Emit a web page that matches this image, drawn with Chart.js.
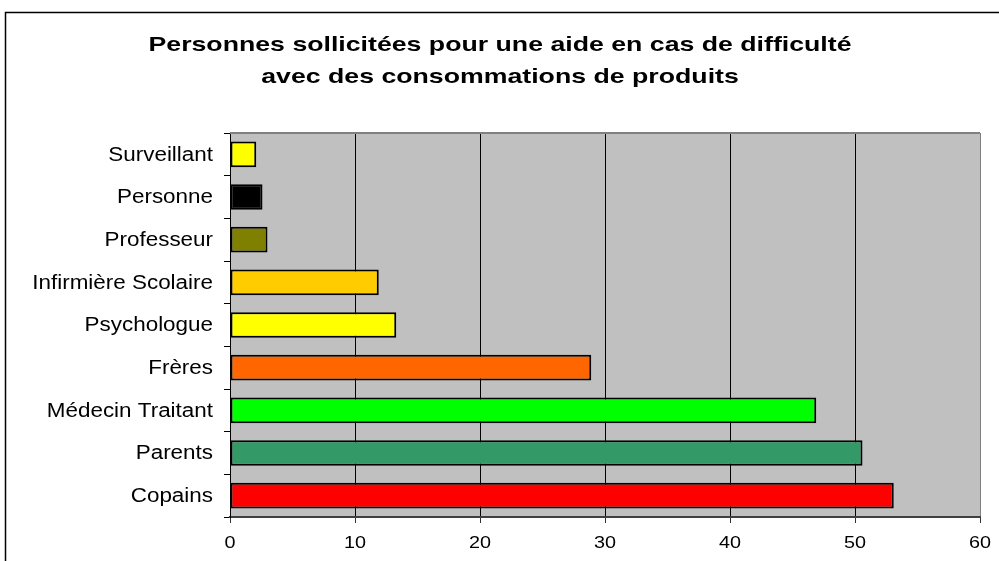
<!DOCTYPE html>
<html>
<head>
<meta charset="utf-8">
<script src="https://cdn.jsdelivr.net/npm/chart.js@4/dist/chart.umd.min.js"></script>
<style>
  html, body { margin: 0; padding: 0; background: #fff; }
  #wrap { width: 999px; height: 561px; position: relative; }
</style>
</head>
<body>
<div id="wrap"><canvas id="myChart" width="999" height="561"></canvas></div>
<script>
  const categories = ['Surveillant', 'Personne', 'Professeur', 'Infirmière Scolaire', 'Psychologue', 'Frères', 'Médecin Traitant', 'Parents', 'Copains'];
  const values = [2.1, 2.6, 3.0, 11.9, 13.3, 28.9, 46.9, 50.6, 53.1];
  const barColors = ['#ffff00', '#000000', '#808000', '#ffcc00', '#ffff00', '#ff6600', '#00ff00', '#339966', '#ff0000'];
  const xTicks = [0, 10, 20, 30, 40, 50, 60];
  const titleLines = ['Personnes sollicitées pour une aide en cas de difficulté', 'avec des consommations de produits'];

  const FONT = "'Liberation Sans', Arial, sans-serif";

  // the original picture has horizontally stretched text, so draw it with a x-scale
  function stretchedText(ctx, text, x, y, sx, align) {
    ctx.save();
    ctx.translate(x, y);
    ctx.scale(sx, 1);
    ctx.textAlign = align;
    ctx.fillText(text, 0, 0);
    ctx.restore();
  }

  // grey plot background + frame around the whole chart
  const plotBox = {
    id: 'plotBox',
    beforeDraw(chart) {
      const {ctx, chartArea: {left, right, top, bottom}} = chart;
      ctx.save();
      ctx.fillStyle = '#fff';
      ctx.fillRect(0, 0, chart.width, chart.height);
      ctx.strokeStyle = '#000';
      ctx.lineWidth = 1.5;
      ctx.strokeRect(5.5, 12.5, 1200, 700);
      ctx.fillStyle = '#c0c0c0';
      ctx.fillRect(left, top, right - left, bottom - top);
      ctx.restore();
    },
    afterDatasetsDraw(chart) {
      const {ctx, chartArea: {left, right, top}} = chart;
      ctx.save();
      ctx.strokeStyle = '#808080';
      ctx.lineWidth = 2;
      ctx.beginPath();
      ctx.moveTo(left, top);
      ctx.lineTo(right, top);
      ctx.stroke();
      ctx.restore();
    }
  };

  // title + axis labels
  const texts = {
    id: 'texts',
    afterDraw(chart) {
      const {ctx, scales: {x, y}} = chart;
      ctx.save();
      ctx.fillStyle = '#000';
      ctx.textBaseline = 'alphabetic';

      ctx.font = 'bold 20.5px ' + FONT;
      const sxTitle = 703 / ctx.measureText(titleLines[0]).width;
      stretchedText(ctx, titleLines[0], 500, 51, sxTitle, 'center');
      stretchedText(ctx, titleLines[1], 500, 83, sxTitle, 'center');

      ctx.font = '19.5px ' + FONT;
      ctx.textBaseline = 'middle';
      categories.forEach((label, i) => {
        stretchedText(ctx, label, x.left - 17, y.getPixelForValue(i) + 1, 1.15, 'right');
      });

      ctx.font = '16.5px ' + FONT;
      xTicks.forEach((v) => {
        stretchedText(ctx, String(v), x.getPixelForValue(v), y.bottom + 26, 1.2, 'center');
      });
      ctx.restore();
    }
  };

  const config = {
    type: 'bar',
    data: {
      labels: categories,
      datasets: [{
        data: values,
        backgroundColor: barColors,
        borderColor: '#000',
        borderWidth: 2,
        borderSkipped: false,
        barPercentage: 0.6,
        categoryPercentage: 1
      }]
    },
    options: {
      indexAxis: 'y',
      responsive: false,
      animation: false,
      layout: { padding: { left: 0, right: 19, top: 133, bottom: 0 } },
      plugins: {
        legend: { display: false },
        tooltip: { enabled: false },
        title: { display: false }
      },
      scales: {
        x: {
          min: 0,
          max: 60,
          afterBuildTicks: (scale) => { scale.ticks = xTicks.map(v => ({ value: v })); },
          afterFit: (scale) => { scale.height = 44; },
          border: { color: '#404040', width: 2 },
          grid: {
            drawOnChartArea: true,
            tickLength: 6,
            tickColor: '#333',
            lineWidth: 1,
            color: (context) => {
              if (context.index === 0) {
                return 'transparent';
              } else if (context.index === 6) {
                return '#808080';
              } else {
                return '#000';
              }
            }
          },
          ticks: { display: false }
        },
        y: {
          afterFit: (scale) => { scale.width = 230; },
          border: { color: '#000', width: 1 },
          grid: {
            drawOnChartArea: false,
            drawTicks: true,
            tickLength: 6,
            tickColor: '#000',
            offset: true
          },
          ticks: { display: false }
        }
      }
    },
    plugins: [plotBox, texts]
  };

  const myChart = new Chart(
    document.getElementById('myChart'),
    config
  );
</script>
</body>
</html>
